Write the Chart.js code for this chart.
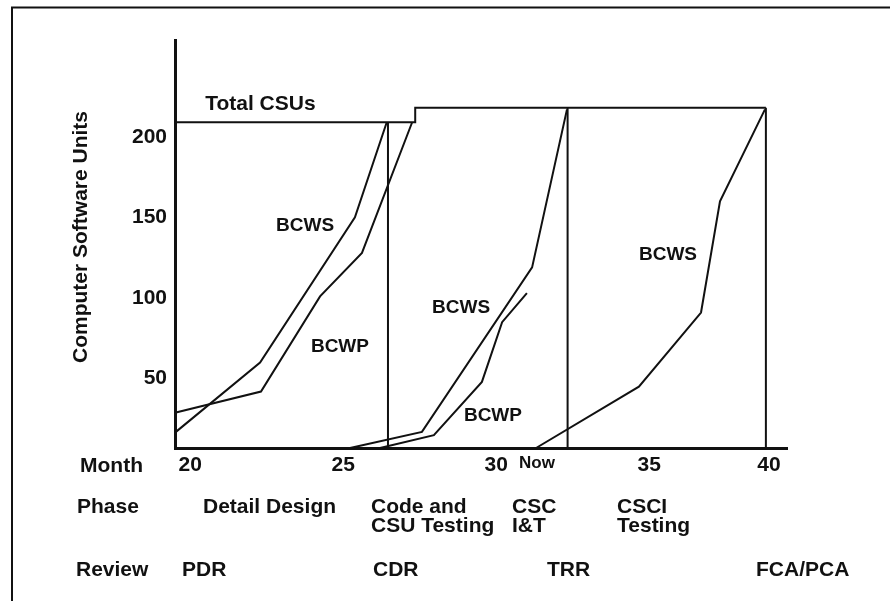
<!DOCTYPE html>
<html>
<head>
<meta charset="utf-8">
<script src="https://cdn.jsdelivr.net/npm/chart.js@4.4.1/dist/chart.umd.min.js"></script>
<style>
  html, body { margin: 0; padding: 0; background: #fff; }
  #wrap { position: relative; width: 890px; height: 601px; overflow: hidden; }
</style>
</head>
<body>
<div id="wrap"><canvas id="csuChart" width="890" height="601"></canvas></div>
<script>
// Axis ticks (month ticks placed where the drawing puts them)
const MONTH_TICKS = [20, 25, 30, 31.33, 35, 38.91];
const MONTH_LABELS = ['20', '25', '30', 'Now', '35', '40'];
const UNIT_TICKS = [50, 100, 150, 200];
const Y_MIN = 7, Y_MAX = 260;

// Total CSUs step line
const TOTAL_MONTHS = [19.5, 27.35, 27.35, 38.81];
const TOTAL_UNITS = [209, 209, 218, 218];

// Detail design
const BCWS1_MONTHS = [19.53, 22.28, 25.38, 26.42];
const BCWS1_UNITS = [17, 60, 150, 209];
const BCWP1_MONTHS = [19.53, 22.31, 24.24, 25.61, 27.25];
const BCWP1_UNITS = [29, 42, 101, 128, 209];

// Code and CSU testing
const BCWS2_MONTHS = [25.22, 27.57, 31.17, 32.31];
const BCWS2_UNITS = [7, 17, 119, 217];
const BCWP2_MONTHS = [26.2, 27.96, 29.53, 30.19, 31.0];
const BCWP2_UNITS = [7, 15, 48, 85, 103];

// CSCI testing
const BCWS3_MONTHS = [31.3, 34.66, 36.69, 37.31, 38.78];
const BCWS3_UNITS = [7, 45, 91, 160, 217];

// Review milestones (CDR, TRR, FCA/PCA) vertical lines
const REVIEW_MONTHS = [26.46, 32.33, 38.81];
const REVIEW_TOPS = [209, 218, 218];

const FONT = "'Liberation Sans', Arial, Helvetica, sans-serif";
const INK = '#111';

const pts = (xs, ys) => xs.map((x, i) => ({ x: x, y: ys[i] }));
const lineSet = (data) => ({
    data: data, borderColor: INK, borderWidth: 2, pointRadius: 0,
    tension: 0, fill: false, clip: false
});

const datasets = [
    lineSet(pts(TOTAL_MONTHS, TOTAL_UNITS)),
    lineSet(pts(BCWS1_MONTHS, BCWS1_UNITS)),
    lineSet(pts(BCWP1_MONTHS, BCWP1_UNITS)),
    lineSet(pts(BCWS2_MONTHS, BCWS2_UNITS)),
    lineSet(pts(BCWP2_MONTHS, BCWP2_UNITS)),
    lineSet(pts(BCWS3_MONTHS, BCWS3_UNITS))
];
REVIEW_MONTHS.forEach((m, i) => {
    datasets.push(lineSet(pts([m, m], [REVIEW_TOPS[i], Y_MIN])));
});

// Labels inside the plot (month, units)
const CURVE_LABELS = [
    { text: 'Total CSUs', x: 22.29, y: 220, size: 21 },
    { text: 'BCWS', x: 23.75, y: 145, size: 19 },
    { text: 'BCWP', x: 24.89, y: 70, size: 19 },
    { text: 'BCWS', x: 28.85, y: 94, size: 19 },
    { text: 'BCWP', x: 29.89, y: 27, size: 19 },
    { text: 'BCWS', x: 35.61, y: 127, size: 19 }
];

// Text rows under the chart (pixel layout)
const TABLE_TEXT = [
    ['Month', 80, 472],
    ['Phase', 77, 513], ['Detail Design', 203, 513],
    ['Code and', 371, 513], ['CSU Testing', 371, 532],
    ['CSC', 512, 513], ['I&T', 512, 532],
    ['CSCI', 617, 513], ['Testing', 617, 532],
    ['Review', 76, 576], ['PDR', 182, 576], ['CDR', 373, 576],
    ['TRR', 547, 576], ['FCA/PCA', 756, 576]
];

const decorations = {
    id: 'decorations',
    beforeDraw(chart) {
        const ctx = chart.ctx;
        ctx.save();
        ctx.fillStyle = '#fff';
        ctx.fillRect(0, 0, chart.width, chart.height);
        ctx.strokeStyle = INK;
        ctx.lineWidth = 2;
        ctx.strokeRect(12, 7.5, 1000, 1000);
        ctx.restore();
    },
    afterDraw(chart) {
        const ctx = chart.ctx;
        const xs = chart.scales.x, ys = chart.scales.y;
        ctx.save();
        ctx.fillStyle = INK;

        CURVE_LABELS.forEach(l => {
            ctx.font = `bold ${l.size}px ${FONT}`;
            ctx.textAlign = 'center';
            ctx.textBaseline = 'middle';
            ctx.fillText(l.text, xs.getPixelForValue(l.x), ys.getPixelForValue(l.y));
        });

        ctx.font = `bold 21px ${FONT}`;
        ctx.textAlign = 'left';
        ctx.textBaseline = 'alphabetic';
        TABLE_TEXT.forEach(t => ctx.fillText(t[0], t[1], t[2]));

        // y axis title
        ctx.translate(87, 237);
        ctx.rotate(-Math.PI / 2);
        ctx.textAlign = 'center';
        ctx.fillText('Computer Software Units', 0, 0);
        ctx.restore();
    }
};

new Chart(document.getElementById('csuChart').getContext('2d'), {
    type: 'line',
    data: { datasets: datasets },
    plugins: [decorations],
    options: {
        responsive: false,
        animation: false,
        events: [],
        layout: { padding: { top: 40, right: 103, left: 0, bottom: 0 } },
        plugins: { legend: { display: false }, tooltip: { enabled: false } },
        scales: {
            x: {
                type: 'linear', min: 19.5, max: 39.5,
                afterFit: s => { s.height = 153; },
                afterBuildTicks: s => { s.ticks = MONTH_TICKS.map(v => ({ value: v })); },
                grid: { display: false, drawTicks: false },
                border: { display: true, color: INK, width: 3 },
                ticks: {
                    autoSkip: false, maxRotation: 0, padding: 5, color: INK,
                    font: c => ({ family: FONT, weight: 'bold', size: MONTH_LABELS[c.index] === 'Now' ? 17 : 21 }),
                    callback: (v, i) => MONTH_LABELS[i]
                }
            },
            y: {
                type: 'linear', min: Y_MIN, max: Y_MAX,
                afterFit: s => { s.width = 175; },
                afterBuildTicks: s => { s.ticks = UNIT_TICKS.map(v => ({ value: v })); },
                grid: { display: false, drawTicks: false },
                border: { display: true, color: INK, width: 3 },
                ticks: {
                    padding: 8, color: INK,
                    font: { family: FONT, weight: 'bold', size: 21 }
                }
            }
        }
    }
});
</script>
</body>
</html>
